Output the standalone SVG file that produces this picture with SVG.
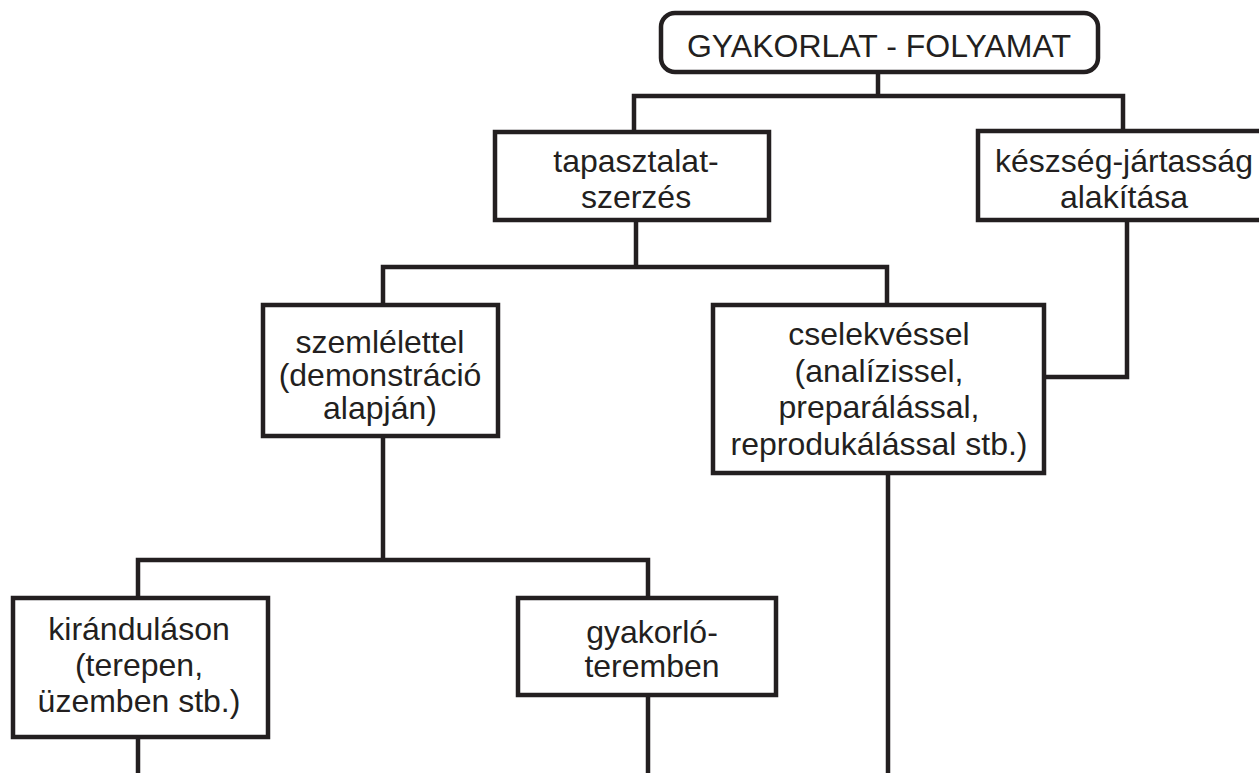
<svg xmlns="http://www.w3.org/2000/svg" width="1259" height="773" viewBox="0 0 1259 773">
<style>
.box{fill:#fff;stroke:#231f20;stroke-width:4.5}
.ln{fill:none;stroke:#231f20;stroke-width:4.5;stroke-linecap:butt;stroke-linejoin:miter}
text{font-family:"Liberation Sans",Arial,sans-serif;font-size:32px;fill:#231f20;text-anchor:middle}
</style>
<rect width="1259" height="773" fill="#fff"/>
<g id="connectors">
<path class="ln" d="M878,72 V96"/>
<path class="ln" d="M634,132 V96 H1123 V131"/>
<path class="ln" d="M636,220 V267"/>
<path class="ln" d="M383,305 V267 H887 V305"/>
<path class="ln" d="M1127,220 V377 H1044"/>
<path class="ln" d="M383,436 V560"/>
<path class="ln" d="M138,598 V560 H648 V598"/>
<path class="ln" d="M138,737 V773"/>
<path class="ln" d="M648,695 V773"/>
<path class="ln" d="M888,473 V773"/>
</g>
<g id="gyakorlat">
<rect class="box" x="661" y="13" width="437" height="59" rx="14"/>
<text x="879" y="57">GYAKORLAT - FOLYAMAT</text>
</g>
<g id="tapasztalat">
<rect class="box" x="495" y="132" width="274" height="88"/>
<text x="636" y="172">tapasztalat-</text>
<text x="636" y="208">szerzés</text>
</g>
<g id="keszseg">
<rect class="box" x="978" y="131" width="290" height="89"/>
<text x="1124" y="172">készség-jártasság</text>
<text x="1124" y="208">alakítása</text>
</g>
<g id="szemlelettel">
<rect class="box" x="263" y="305" width="235" height="131"/>
<text x="380" y="353">szemlélettel</text>
<text x="380" y="386">(demonstráció</text>
<text x="380" y="419">alapján)</text>
</g>
<g id="cselekvessel">
<rect class="box" x="713" y="305" width="331" height="168"/>
<text x="879" y="345">cselekvéssel</text>
<text x="879" y="382">(analízissel,</text>
<text x="879" y="418">preparálással,</text>
<text x="879" y="455">reprodukálással stb.)</text>
</g>
<g id="kirandulason">
<rect class="box" x="13" y="598" width="255" height="139"/>
<text x="139" y="640">kiránduláson</text>
<text x="139" y="676">(terepen,</text>
<text x="139" y="712">üzemben stb.)</text>
</g>
<g id="gyakorlo">
<rect class="box" x="518" y="598" width="258" height="97"/>
<text x="652" y="643">gyakorló-</text>
<text x="652" y="677">teremben</text>
</g>
</svg>
